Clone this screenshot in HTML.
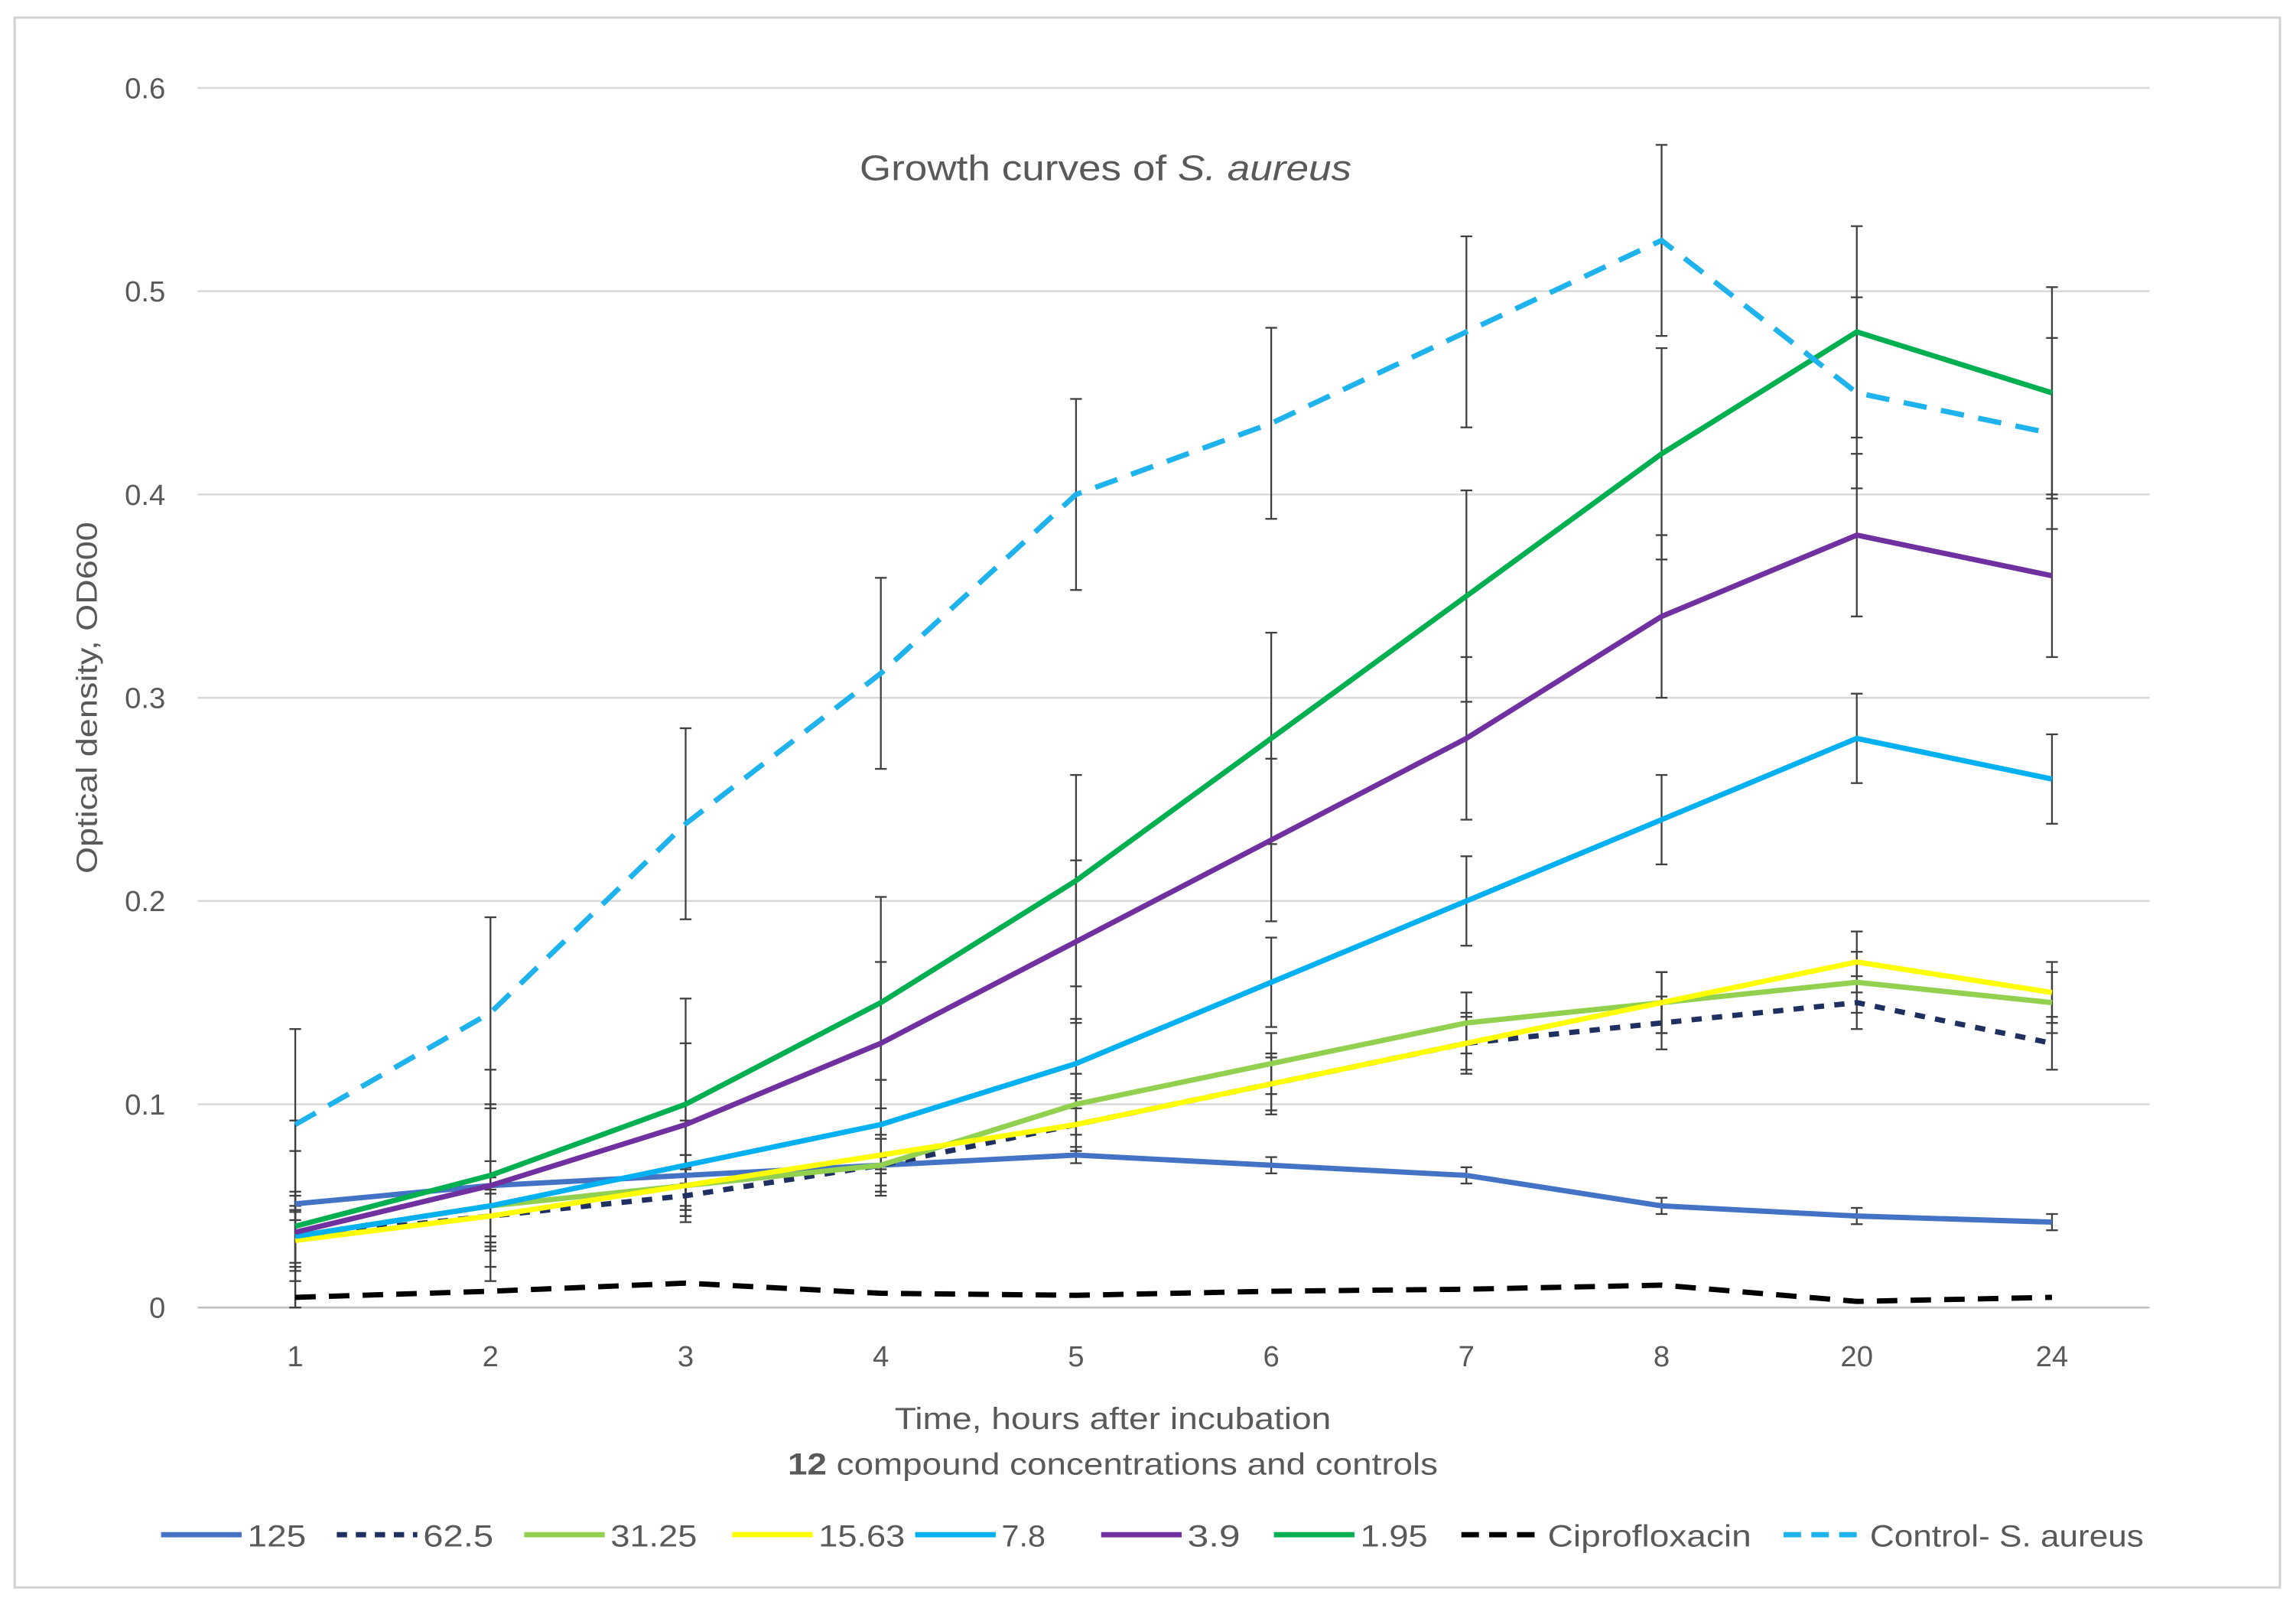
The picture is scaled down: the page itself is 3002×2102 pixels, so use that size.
<!DOCTYPE html>
<html><head><meta charset="utf-8"><style>
html,body{margin:0;padding:0;background:#fff;}
svg{display:block;}
text{font-family:"Liberation Sans",sans-serif;fill:#595959;}
</style></head><body>
<svg id="chart" width="3002" height="2102" viewBox="0 0 1568 1097" preserveAspectRatio="none" xmlns="http://www.w3.org/2000/svg">
<rect x="10" y="12" width="1547" height="1071" fill="#fff" stroke="#d0d0d0" stroke-width="1.5"/>
<g id="grid"></g>
<text x="755" y="123" font-size="24" text-anchor="middle" textLength="336" lengthAdjust="spacingAndGlyphs">Growth curves of <tspan font-style="italic">S. aureus</tspan></text>
<text x="0" y="0" font-size="20" text-anchor="middle" textLength="240" lengthAdjust="spacingAndGlyphs" transform="translate(66,476) rotate(-90)">Optical density, OD600</text>
<text x="760" y="975" font-size="21" text-anchor="middle" textLength="298" lengthAdjust="spacingAndGlyphs">Time, hours after incubation</text>
<text x="760" y="1006" font-size="21" text-anchor="middle" textLength="444" lengthAdjust="spacingAndGlyphs"><tspan font-weight="bold">12</tspan> compound concentrations and controls</text>
<g id="series"></g>
<g id="legend"></g>
</svg>
<script>
const categories=["1","2","3","4","5","6","7","8","20","24"];
const yTicks=[0,0.1,0.2,0.3,0.4,0.5,0.6];
const names=["125","62.5","31.25","15.63","7.8","3.9","1.95","Ciprofloxacin","Control- S. aureus"];
const s125=[.051,.06,.065,.07,.075,.07,.065,.05,.045,.042];
const s62=[.035,.045,.055,.07,.09,.11,.13,.14,.15,.13];
const s31=[.035,.05,.06,.07,.10,.12,.14,.15,.16,.15];
const s15=[.033,.045,.06,.075,.09,.11,.13,.15,.17,.155];
const s7=[.035,.05,.07,.09,.12,.16,.20,.24,.28,.26];
const s3=[.037,.06,.09,.13,.18,.23,.28,.34,.38,.36];
const s1=[.04,.065,.10,.15,.21,.28,.35,.42,.48,.45];
const sCip=[.005,.008,.012,.007,.006,.008,.009,.011,.003,.005];
const sCtl=[.09,.145,.238,.312,.40,.435,.48,.525,.45,.43];
const errs=[.004,.013,.015,.015,.022,.04,.052,0,.047];
const NS="http://www.w3.org/2000/svg";
const X0=135,X1=1468,Y0=892,Y1=60,YMAX=0.6;
const xs=i=>X0+(i+0.5)*(X1-X0)/categories.length;
const ys=v=>Y0-v/YMAX*(Y0-Y1);
function mk(tag,attrs,parent){const e=document.createElementNS(NS,tag);for(const k in attrs)e.setAttribute(k,attrs[k]);parent.appendChild(e);return e;}
const grid=document.getElementById('grid');
yTicks.forEach(t=>{
  const l=mk('line',{x1:X0,x2:X1,y1:ys(t),y2:ys(t),stroke:t===0?'#bfbfbf':'#d9d9d9','stroke-width':1.3},grid);
  
  
  const tx=mk('text',{x:113,y:ys(t)+7,'font-size':20,'text-anchor':'end'},grid);
  tx.textContent=String(t);
  
  
});
categories.forEach((c,i)=>{
  const tx=mk('text',{x:xs(i),y:932,'font-size':20,'text-anchor':'middle'},grid);
  tx.textContent=c;
  
  
});
const data=[s125,s62,s31,s15,s7,s3,s1,sCip,sCtl];
const colors=["#4472C4","#1F2F60","#92D050","#FFFF00","#00B0F0","#7030A0","#00B050","#000000","#1FB3EE"];
const dashes=[null,"7,7",null,null,null,null,null,"14,9","16,10"];
const ser=document.getElementById('series');
data.forEach((d,si)=>{
  if(!errs[si])return;
  d.forEach((v,i)=>{
    const g=mk('g',{stroke:'#404040','stroke-width':1.2},ser);
    
    
    const x=xs(i),a=ys(v+errs[si]),b=ys(Math.max(0,v-errs[si]));
    mk('line',{x1:x,x2:x,y1:a,y2:b},g);
    mk('line',{x1:x-4,x2:x+4,y1:a,y2:a},g);
    mk('line',{x1:x-4,x2:x+4,y1:b,y2:b},g);
  });
});
const order=[7,0,1,2,3,4,5,6,8];
order.forEach(si=>{
  const d=data[si];
  const p=mk('polyline',{points:d.map((v,i)=>xs(i)+','+ys(v)).join(' '),fill:'none',stroke:colors[si],'stroke-width':3.6,'stroke-linejoin':'round'},ser);
  if(dashes[si])p.setAttribute('stroke-dasharray',dashes[si]);
  
  
});
const leg=document.getElementById('legend');
const lx=[110,230,358,500,625,752,870,998,1218];
const tw=[40,48,59,59,30,36,46,139,187];
names.forEach((n,i)=>{
  const g=mk('g',{},leg);
  
  
  const l=mk('line',{x1:lx[i],x2:lx[i]+55,y1:1047,y2:1047,stroke:colors[i],'stroke-width':3.6},g);
  if(dashes[i])l.setAttribute('stroke-dasharray',i===1?'7,6':'12,7');
  const t=mk('text',{x:lx[i]+59,y:1055,'font-size':21,textLength:tw[i],lengthAdjust:'spacingAndGlyphs'},g);
  t.textContent=n;
});
</script>
</body></html>
